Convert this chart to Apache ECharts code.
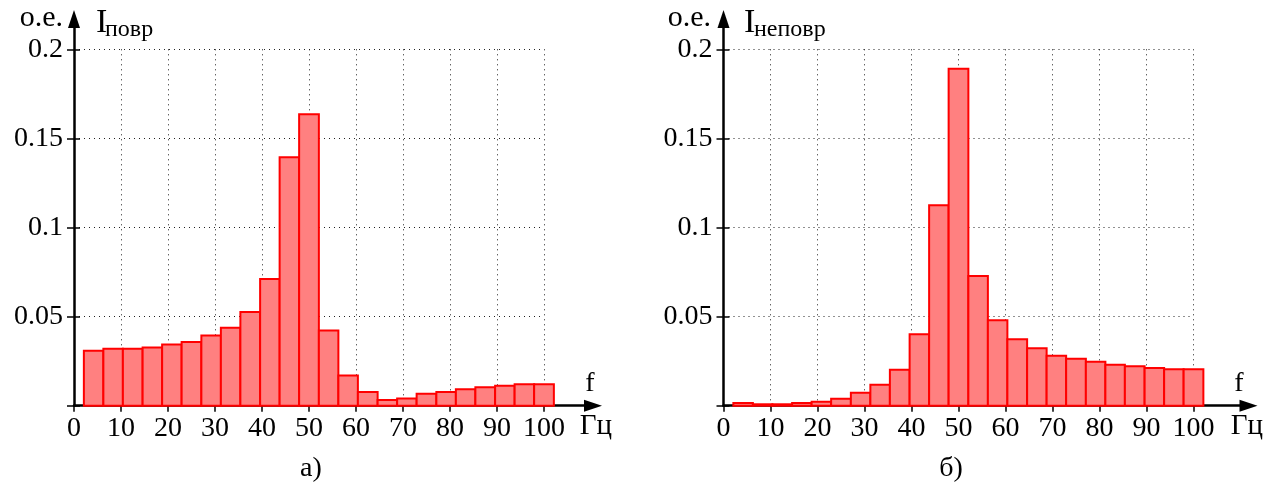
<!DOCTYPE html>
<html>
<head>
<meta charset="utf-8">
<script src="https://cdn.jsdelivr.net/npm/echarts@6/dist/echarts.min.js"></script>
<style>
html,body{margin:0;padding:0;background:#fff;}
#chart{width:1271px;height:488px;}
</style>
</head>
<body>
<div id="chart"></div>
<script>
// Bin edges (Hz) shared by both histograms
const binEdges = [2.1, 6.25, 10.4, 14.6, 18.75, 22.9, 27.1, 31.25, 35.4, 39.6, 43.75, 47.9,
  52.1, 56.25, 60.4, 64.6, 68.75, 72.9, 77.1, 81.25, 85.4, 89.6, 93.75, 97.9, 102.1];
// а) I_повр
const valuesA = [0.0308, 0.0319, 0.0319, 0.0327, 0.0344, 0.0358, 0.0394, 0.0437, 0.0526, 0.0711, 0.1394, 0.1635,
  0.0422, 0.0170, 0.0077, 0.0032, 0.0041, 0.0067, 0.0077, 0.0092, 0.0103, 0.0112, 0.0120, 0.0120];
// б) I_неповр
const valuesB = [0.0015, 0.0008, 0.0008, 0.0015, 0.0022, 0.0039, 0.0073, 0.0118, 0.0202, 0.0401, 0.1125, 0.1891,
  0.0728, 0.0480, 0.0373, 0.0323, 0.0280, 0.0263, 0.0246, 0.0230, 0.0221, 0.0211, 0.0204, 0.0204];
const xTicks = [0, 10, 20, 30, 40, 50, 60, 70, 80, 90, 100];
const yTicks = [0, 0.05, 0.1, 0.15, 0.2];

const FONT = '"Liberation Serif", "Times New Roman", serif';
const chart = echarts.init(document.getElementById('chart'), null, {renderer: 'canvas'});

function binData(vals) {
  return vals.map((v, i) => [binEdges[i], binEdges[i + 1], v]);
}
function renderBar(params, api) {
  const p0 = api.coord([api.value(0), api.value(2)]);
  const p1 = api.coord([api.value(1), 0]);
  return {
    type: 'rect',
    shape: {x: p0[0], y: p0[1], width: p1[0] - p0[0], height: p1[1] - p0[1]},
    style: {fill: '#FF8080', stroke: '#FF0000', lineWidth: 2}
  };
}
const gridLine = {show: true, lineStyle: {color: '#222', width: 1, type: [1, 4]}};
function dataX(gi) {
  return {
    type: 'value', gridIndex: gi, min: xTicks[0], max: xTicks[xTicks.length - 1], interval: 10,
    axisLine: {show: false},
    axisTick: {show: true, length: 6, lineStyle: {color: '#000', width: 1.5}},
    axisLabel: {show: true, margin: 9, color: '#000', fontFamily: FONT, fontSize: 28},
    splitLine: gridLine
  };
}
function dataY(gi) {
  return {
    type: 'value', gridIndex: gi, min: yTicks[0], max: yTicks[yTicks.length - 1], interval: 0.05,
    axisLine: {show: false},
    axisTick: {show: true, length: 7, lineStyle: {color: '#000', width: 1.5}},
    axisLabel: {show: true, margin: 11, color: '#000', fontFamily: FONT, fontSize: 28,
      formatter: v => (v === 0 ? '' : String(+v.toFixed(2)))},
    splitLine: gridLine
  };
}
function innerTickY(gi) {
  return {
    type: 'value', gridIndex: gi, position: 'left', offset: 0,
    min: yTicks[0], max: yTicks[yTicks.length - 1], interval: 0.05,
    axisLine: {show: false},
    axisTick: {show: true, inside: true, length: 6, lineStyle: {color: '#000', width: 1.5}},
    axisLabel: {show: false}, splitLine: {show: false}
  };
}
const arrowLine = {show: true, symbol: ['none', 'triangle'], symbolSize: [12, 18],
  lineStyle: {color: '#000', width: 2.5}};
function arrowAxis(gi) {
  return {type: 'value', gridIndex: gi, min: 0, max: 1, axisLine: arrowLine,
    axisTick: {show: false}, axisLabel: {show: false}, splitLine: {show: false}};
}

function txt(text, x, y, size, align) {
  return {type: 'text', x: x, y: y, silent: true,
    style: {text: text, fill: '#000', font: size + 'px ' + FONT, align: align || 'left', verticalAlign: 'middle'}};
}

chart.setOption({
  backgroundColor: '#fff',
  animation: false,
  grid: [
    {left: 74, top: 49.3, width: 470, height: 356.4},
    {left: 723.5, top: 49.3, width: 470, height: 356.4},
    {left: 74, top: 19, width: 519, height: 386.7},
    {left: 723.5, top: 19, width: 525, height: 386.7}
  ],
  xAxis: [dataX(0), dataX(1), arrowAxis(2), arrowAxis(3)],
  yAxis: [dataY(0), dataY(1), arrowAxis(2), arrowAxis(3), innerTickY(0), innerTickY(1)],
  series: [
    {type: 'custom', xAxisIndex: 0, yAxisIndex: 0, data: binData(valuesA), renderItem: renderBar, z: 5},
    {type: 'custom', xAxisIndex: 1, yAxisIndex: 1, data: binData(valuesB), renderItem: renderBar, z: 5}
  ],
  graphic: [
    txt('о.е.', 63, 18, 30, 'right'),
    txt('I', 96, 22.6, 34),
    txt('повр', 105, 29.7, 24),
    txt('f', 590, 383.5, 28, 'center'),
    txt('Гц', 596, 426.5, 29, 'center'),
    txt('а)', 311, 468.5, 28, 'center'),
    txt('о.е.', 711, 18, 30, 'right'),
    txt('I', 744, 22.6, 34),
    txt('неповр', 754, 29.7, 24),
    txt('f', 1239, 383.5, 28, 'center'),
    txt('Гц', 1247, 426.5, 29, 'center'),
    txt('б)', 951, 468.5, 28, 'center')
  ]
});
</script>
</body>
</html>
